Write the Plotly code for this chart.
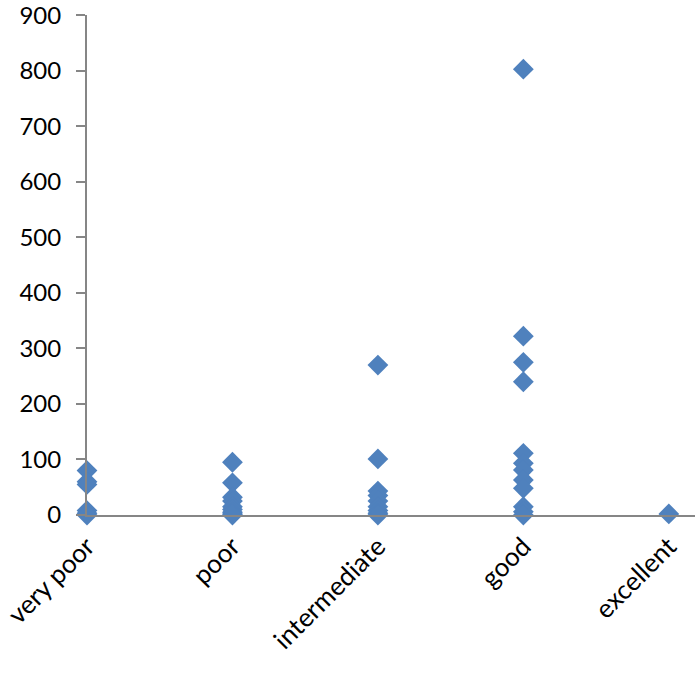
import plotly.graph_objects as go

# categories and values
categories = ['very poor', 'poor', 'intermediate', 'good', 'excellent']

very_poor = [80, 60, 55, 8, 3, 0]
poor = [95, 58, 32, 25, 15, 10, 5, 2, 0]
intermediate = [270, 101, 43, 35, 25, 15, 8, 3, 0]
good = [803, 322, 275, 240, 111, 93, 81, 63, 48, 15, 6, 0]
excellent = [2]

y_ticks = list(range(0, 901, 100))

groups = [very_poor, poor, intermediate, good, excellent]

xs = []
ys = []
for cat, vals in zip(categories, groups):
    xs += [cat] * len(vals)
    ys += vals

AXIS_COLOR = '#868686'
FAMILY = 'Lato, Open Sans, sans-serif'

fig = go.Figure()
fig.add_trace(go.Scatter(x=xs, y=ys, mode='markers', cliponaxis=False,
                         marker=dict(symbol='diamond', size=16, color='#4F81BD'),
                         showlegend=False))

fig.update_layout(width=699, height=692,
                  margin=dict(l=87, r=4, t=15, b=177),
                  plot_bgcolor='white', paper_bgcolor='white',
                  font=dict(family=FAMILY, color='black'))
fig.update_xaxes(type='category', categoryorder='array', categoryarray=categories,
                 range=[0, 4.18], showline=True, linecolor=AXIS_COLOR, linewidth=2,
                 showgrid=False, zeroline=False, tickangle=-45, ticks='',
                 tickfont=dict(family=FAMILY, size=26, color='black'),
                 ticklabelstandoff=4, automargin=False, ticklabeloverflow='allow')
fig.update_yaxes(range=[0, 900.5], tickvals=y_ticks, showline=True, linecolor=AXIS_COLOR,
                 linewidth=2, showgrid=False, zeroline=False, ticks='outside',
                 ticklen=9, tickcolor=AXIS_COLOR, tickwidth=2,
                 tickfont=dict(family=FAMILY, size=24, color='black'),
                 ticklabelstandoff=10, automargin=False, ticklabeloverflow='allow')

# drop the default body margin so the figure sits at the window's corner
fig.write_html("out.html", config={'displayModeBar': False},
               post_script="document.body.style.margin='0';")
